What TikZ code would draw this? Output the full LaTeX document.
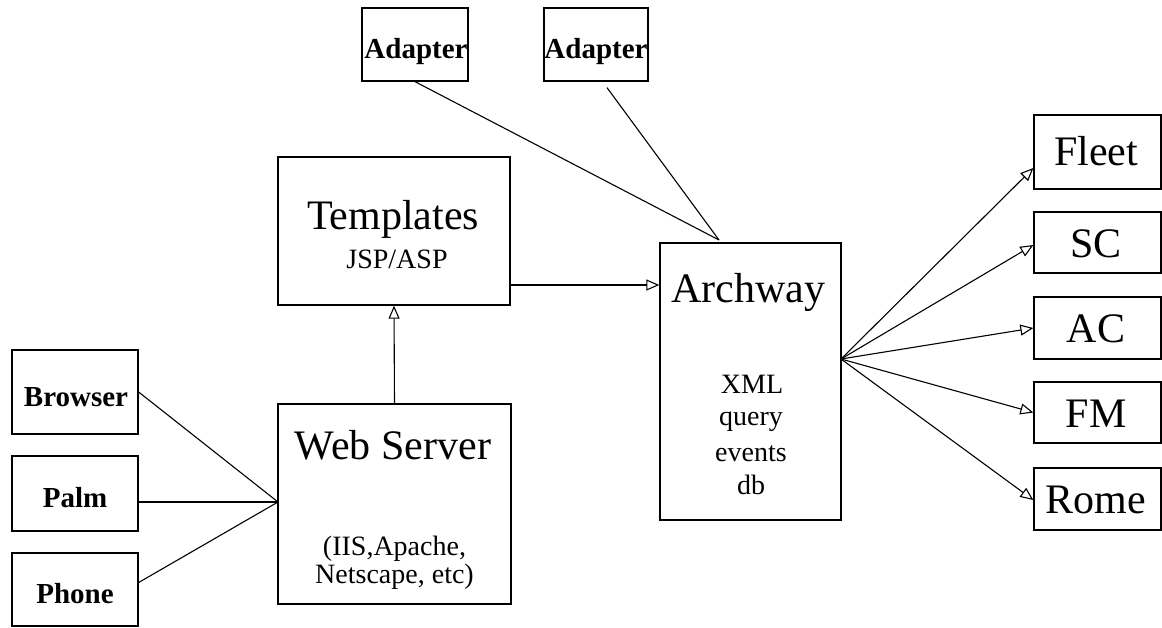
\documentclass[tikz,border=0pt]{standalone}
\usepackage{fontspec}
\setmainfont{Liberation Serif}
\usetikzlibrary{arrows.meta}

\begin{document}
\begin{tikzpicture}[x=1pt, y=-1pt, line width=1.1pt,
        box/.style = {draw, line width=1.3pt, inner sep=0pt},
        big/.style = {font=\fontsize{42}{42}\selectfont, anchor=base, inner sep=0pt},
        small/.style = {font=\fontsize{28}{28}\selectfont, anchor=base, inner sep=0pt},
        client/.style = {font=\fontsize{29}{29}\selectfont\bfseries, anchor=base, inner sep=0pt},
        arr/.style = {-{Triangle[open, length=13pt, width=11pt]}}]
        \useasboundingbox (0,0) rectangle (1162,627);

        % clients
        \node[box, minimum width=126pt, minimum height=84pt] (browser) at (75,392) {};
        \node[box, minimum width=126pt, minimum height=75pt] (palm) at (75,493.5) {};
        \node[box, minimum width=126pt, minimum height=73pt] (phone) at (75,589.5) {};
        \node[client] (browser-txt) at (76,406) {Browser};
        \node[client] (palm-txt) at (75,507) {Palm};
        \node[client] (phone-txt) at (75,603) {Phone};

        % web server and templates
        \node[box, minimum width=233pt, minimum height=200pt] (web) at (394.5,504) {};
        \node[big] (web-txt) at (393,459) {Web Server};
        \node[small] (web-sub1) at (394.5,555) {(IIS,Apache,};
        \node[small] (web-sub2) at (394.5,583) {Netscape, etc)};
        \node[box, minimum width=232pt, minimum height=148pt] (templates) at (394,231) {};
        \node[big] (templates-txt) at (393,229) {Templates};
        \node[small] (templates-sub) at (397,268) {JSP/ASP};

        % adapters
        \node[box, minimum width=106pt, minimum height=73pt] (adapter1) at (415,44.5) {};
        \node[box, minimum width=104pt, minimum height=73pt] (adapter2) at (596,44.5) {};
        \node[client] (adapter1-txt) at (416,58) {Adapter};
        \node[client] (adapter2-txt) at (596,58) {Adapter};

        % archway
        \node[box, minimum width=181pt, minimum height=277pt] (archway) at (750.5,381.5) {};
        \node[big] (archway-txt) at (748.5,302) {Archway};
        \node[small] (xml) at (752,393) {XML};
        \node[small] (query) at (751,425) {query};
        \node[small] (events) at (751,461) {events};
        \node[small] (db) at (751,494) {db};

        % back ends
        \node[box, minimum width=127pt, minimum height=74pt] (fleet) at (1097.5,152) {};
        \node[box, minimum width=127pt, minimum height=61pt] (sc) at (1097.5,242.5) {};
        \node[box, minimum width=127pt, minimum height=62pt] (ac) at (1097.5,328) {};
        \node[box, minimum width=127pt, minimum height=61pt] (fm) at (1097.5,412.5) {};
        \node[box, minimum width=127pt, minimum height=62pt] (rome) at (1097.5,499) {};
        \node[big] (fleet-txt) at (1096,165) {Fleet};
        \node[big] (sc-txt) at (1096,257) {SC};
        \node[big] (ac-txt) at (1096,342) {AC};
        \node[big] (fm-txt) at (1096,427) {FM};
        \node[big] (rome-txt) at (1096,513) {Rome};

        % meeting points
        \coordinate (webin) at (278,502);
        \coordinate (tplout) at (510,285);
        \coordinate (archin) at (719,240);
        \coordinate (archout) at (841,359);

        \draw (browser.east) -- (webin);
        \draw (palm.east |- webin) -- (webin);
        \draw ([yshift=7pt]phone.east) -- (webin);

        \draw[arr] (web.north) -- (templates.south);
        \draw[arr] (tplout) -- (tplout -| archway.west);

        \draw (adapter1.south) -- (archin);
        \draw ([xshift=11pt, yshift=-6pt]adapter2.south) -- (archin);

        \draw[arr] (archout) -- ([yshift=-16pt]fleet.west);
        \draw[arr] (archout) -- ([yshift=-2.5pt]sc.west);
        \draw[arr] (archout) -- (ac.west);
        \draw[arr] (archout) -- (fm.west);
        \draw[arr] (archout) -- ([yshift=-1pt]rome.west);
\end{tikzpicture}
\end{document}
